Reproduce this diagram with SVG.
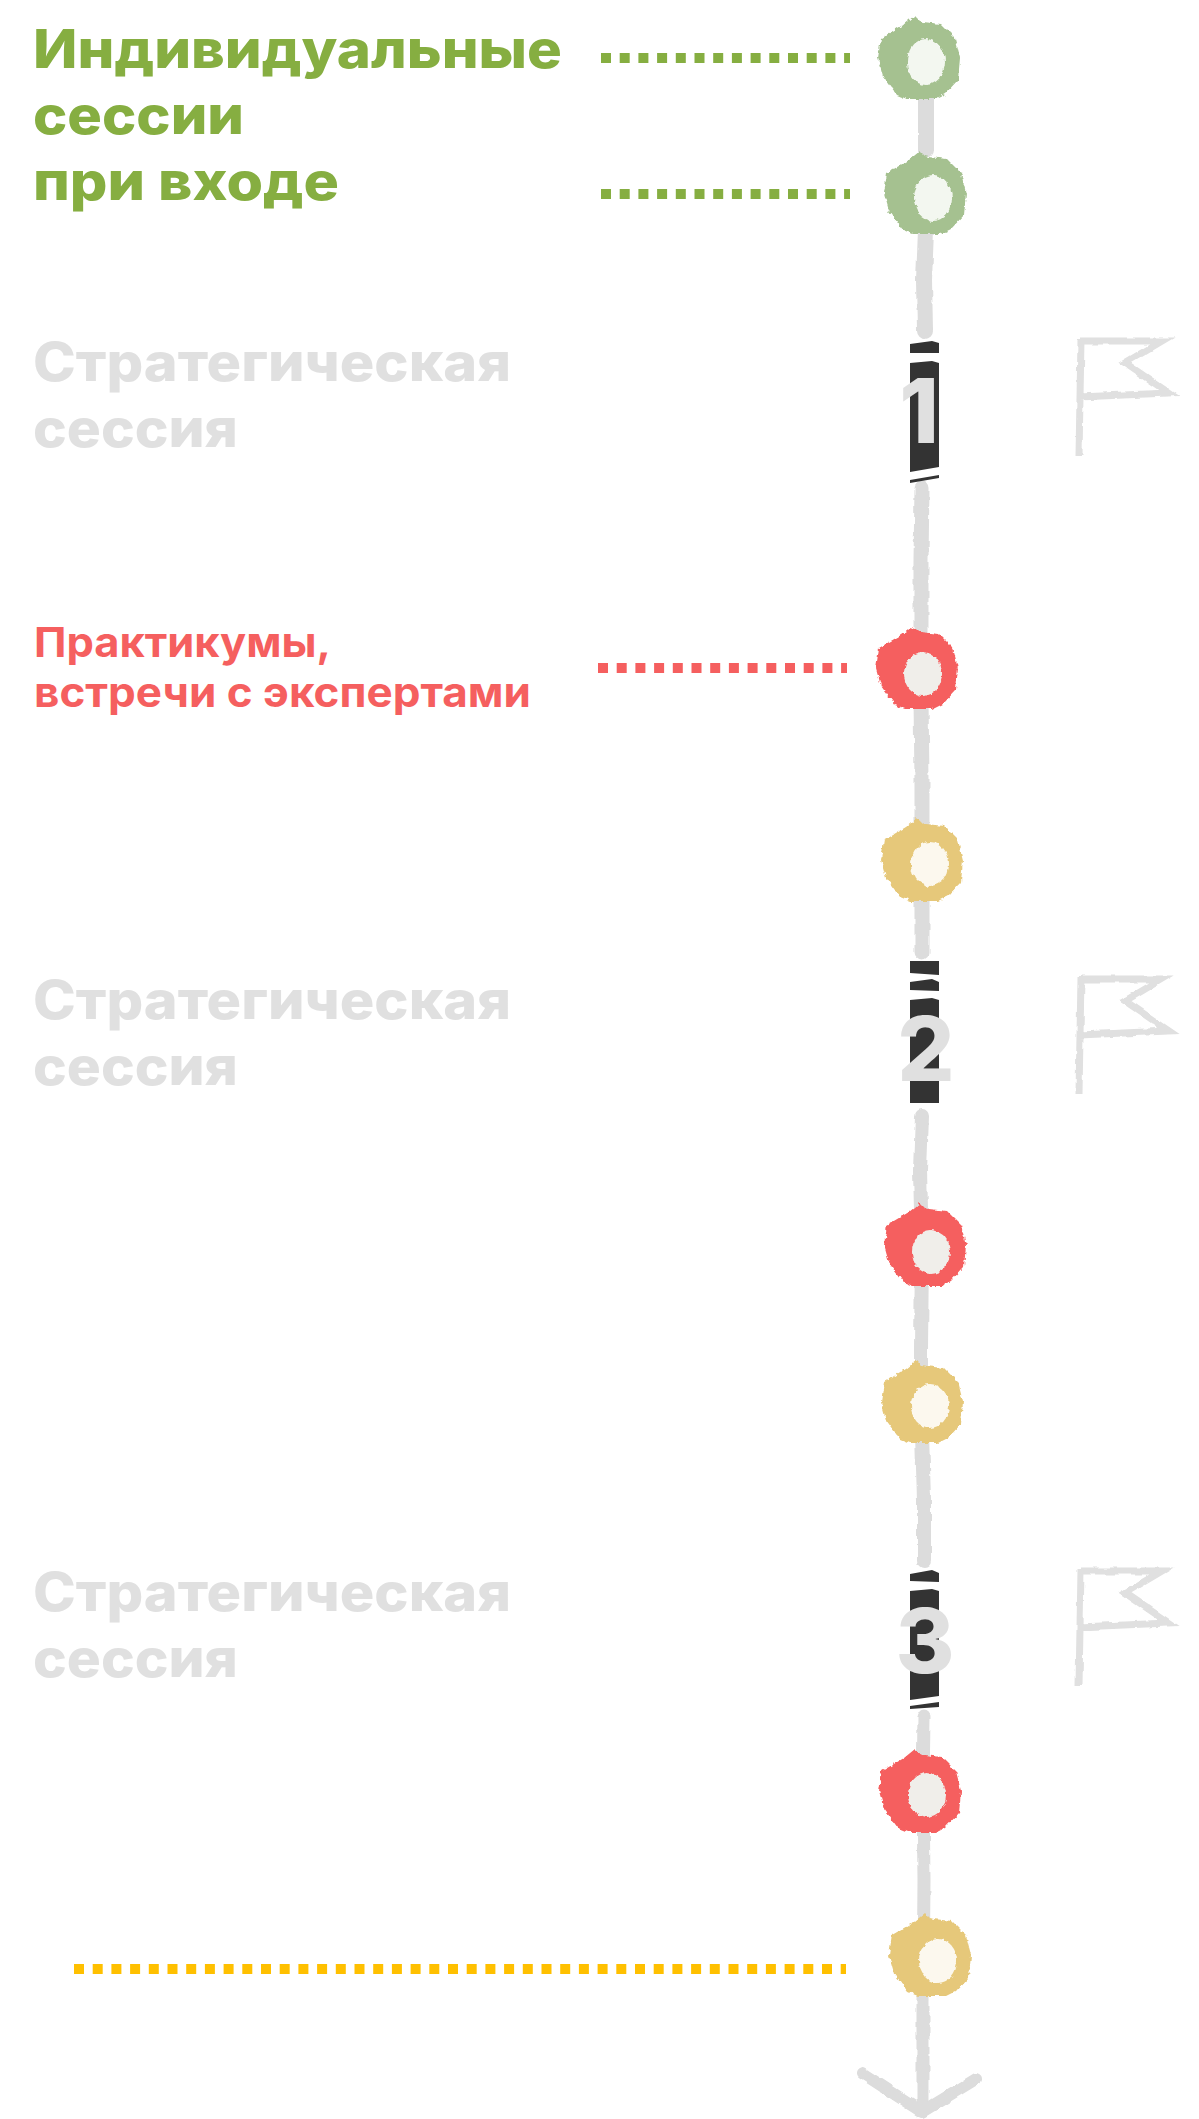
<svg xmlns="http://www.w3.org/2000/svg" width="1199" height="2119" viewBox="0 0 1199 2119">
<style>
text{font-family:"Inter","Liberation Sans",sans-serif;font-weight:800}
.h{font-size:53px}
.p{font-size:41px;fill:#f55f5f;font-weight:700}
.g{fill:#e0e0e0}
.gr{fill:#86ae41}
.d{font-size:90px;fill:#e0e0e0;text-anchor:middle}
.line{fill:none;stroke:#dcdcdc;stroke-linecap:round;stroke-linejoin:round}
.flag{fill:none;stroke:#e0e0e0;stroke-width:7;stroke-linejoin:miter}
.bar{fill:#333}
.dots{fill:none;stroke-width:10;stroke-dasharray:10 8.7}
</style>
<defs>
<filter id="rough" filterUnits="userSpaceOnUse" x="0" y="0" width="1199" height="2119" color-interpolation-filters="sRGB">
<feTurbulence type="fractalNoise" baseFrequency="0.2" numOctaves="2" seed="4"/>
<feDisplacementMap in="SourceGraphic" scale="5" xChannelSelector="R" yChannelSelector="G"/>
</filter>
<filter id="rough2" filterUnits="userSpaceOnUse" x="0" y="0" width="1199" height="2119" color-interpolation-filters="sRGB">
<feTurbulence type="fractalNoise" baseFrequency="0.09" numOctaves="2" seed="9"/>
<feDisplacementMap in="SourceGraphic" scale="4" xChannelSelector="R" yChannelSelector="G"/>
</filter>
<path id="ring" d="M-5,-42 L0,-37 L4,-36 L22,-34 L36,-20 L41,0 L39,22 L26,36 L16,41 L-12,41 L-22,37 L-36,18 L-41,0 L-38,-20 L-16,-33 Z"/>
<g id="flagshape"><path class="flag" d="M1081,339 L1079,456 M1081,341 L1162,341 L1125,363 L1169,393 L1079,397"/></g>
</defs>

<g id="connectors">
<path class="line" stroke-width="16" filter="url(#rough2)" d="M926,70 L926,150 M926,230 L924,280 L925,331"/>
<path class="line" stroke-width="15" filter="url(#rough2)" d="M922,488 L921,560 L921,640 M921,700 L922,780 L922,860 L922,952"/>
<path class="line" stroke-width="14" filter="url(#rough2)" d="M922,1116 L920,1170 L922,1250 L921,1350 L921,1400 L924,1500 L924,1561"/>
<path class="line" stroke-width="13" filter="url(#rough2)" d="M924,1716 L923,1790 L924,1880 L923,2000 L923,2108"/>
<path class="line" stroke-width="12" filter="url(#rough2)" d="M862,2073 L922,2112 L976,2079"/>
<path class="dots" stroke="#86ae41" d="M601,58 H850"/>
<path class="dots" stroke="#86ae41" d="M601,194 H850"/>
<path class="dots" stroke="#f55f5f" d="M598,668 H847"/>
<path class="dots" stroke="#ffc000" d="M74,1969 H846"/>
</g>

<g id="label-individual">
<text class="h gr" x="33" y="68" textLength="529" lengthAdjust="spacingAndGlyphs">Индивидуальные</text>
<text class="h gr" x="33" y="134" textLength="211" lengthAdjust="spacingAndGlyphs">сессии</text>
<text class="h gr" x="33" y="200" textLength="306" lengthAdjust="spacingAndGlyphs">при входе</text>
</g>
<g id="label-practicum">
<text class="p" x="34" y="657" textLength="297" lengthAdjust="spacingAndGlyphs">Практикумы,</text>
<text class="p" x="34" y="707" textLength="497" lengthAdjust="spacingAndGlyphs">встречи с экспертами</text>
</g>
<g id="label-s1">
<text class="h g" x="33" y="381" textLength="478" lengthAdjust="spacingAndGlyphs">Стратегическая</text>
<text class="h g" x="33" y="447" textLength="205" lengthAdjust="spacingAndGlyphs">сессия</text>
</g>
<g id="label-s2">
<text class="h g" x="33" y="1019" textLength="478" lengthAdjust="spacingAndGlyphs">Стратегическая</text>
<text class="h g" x="33" y="1085" textLength="205" lengthAdjust="spacingAndGlyphs">сессия</text>
</g>
<g id="label-s3">
<text class="h g" x="33" y="1611" textLength="478" lengthAdjust="spacingAndGlyphs">Стратегическая</text>
<text class="h g" x="33" y="1677" textLength="205" lengthAdjust="spacingAndGlyphs">сессия</text>
</g>

<g id="node-green1" filter="url(#rough)"><use href="#ring" x="919" y="58" fill="#a5c190"/><ellipse cx="926" cy="62" rx="19" ry="23" fill="#f3f7f0"/></g>
<g id="node-green2" filter="url(#rough)"><use href="#ring" x="925" y="193" fill="#a5c190"/><ellipse cx="933" cy="198" rx="19" ry="23" fill="#f3f7f0"/></g>
<g id="node-red1" filter="url(#rough)"><use href="#ring" x="917" y="668" fill="#f55f5f"/><ellipse cx="923" cy="674" rx="19" ry="22" fill="#f0eeea"/></g>
<g id="node-yellow1" filter="url(#rough)"><use href="#ring" x="922" y="860" fill="#e6c87a"/><ellipse cx="930" cy="864" rx="19" ry="22" fill="#fcf8ee"/></g>
<g id="node-red2" filter="url(#rough)"><use href="#ring" x="925" y="1245" fill="#f55f5f"/><ellipse cx="931" cy="1252" rx="19" ry="22" fill="#f0eeea"/></g>
<g id="node-yellow2" filter="url(#rough)"><use href="#ring" x="922" y="1402" fill="#e6c87a"/><ellipse cx="930" cy="1406" rx="19" ry="22" fill="#fcf8ee"/></g>
<g id="node-red3" filter="url(#rough)"><use href="#ring" x="920" y="1791" fill="#f55f5f"/><ellipse cx="927" cy="1795" rx="19" ry="22" fill="#f0eeea"/></g>
<g id="node-yellow3" filter="url(#rough)"><use href="#ring" x="930" y="1955" fill="#e6c87a"/><ellipse cx="938" cy="1961" rx="19" ry="22" fill="#fcf8ee"/></g>

<g id="node-step1">
<path class="bar" d="M910,344 L932,341 L939,343 V353 H910 Z M910,363 L932,361 L939,363 V467 L910,472 Z M910,480 L939,475 V478 L910,483 Z"/>
<text class="d" x="919" y="443">1</text>
</g>
<g id="node-step2">
<path class="bar" d="M910,961 H939 V975 L910,973 Z M910,982 L932,979 L939,982 V991 L910,990 Z M910,1000 L932,998 L939,1000 V1103 H910 Z"/>
<text class="d" x="926" y="1081">2</text>
</g>
<g id="node-step3">
<path class="bar" d="M910,1574 L932,1570 L939,1573 V1582 L910,1581 Z M910,1591 L932,1589 L939,1591 V1696 L910,1700 Z M910,1706 L939,1702 V1707 L910,1709 Z"/>
<text class="d" x="925" y="1673">3</text>
</g>

<g id="flag1" filter="url(#rough2)"><use href="#flagshape"/></g>
<g id="flag2" filter="url(#rough2)"><use href="#flagshape" y="638"/></g>
<g id="flag3" filter="url(#rough2)"><use href="#flagshape" y="1230"/></g>
</svg>
